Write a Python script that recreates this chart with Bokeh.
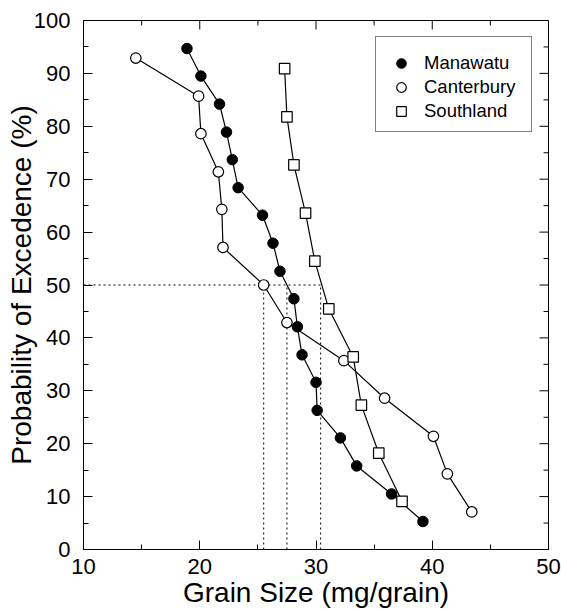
import math
from bokeh.plotting import figure
from bokeh.models import (Range1d, SingleIntervalTicker, Legend,
                          LegendItem, ColumnDataSource)
from bokeh.embed import file_html
from bokeh.resources import INLINE

FONT = "Liberation Sans"

# ---- data ----
manawatu_size = [39.2, 36.5, 33.5, 32.1, 30.1, 30.0, 28.8, 28.4, 28.1, 26.9,
                 26.3, 25.4, 23.3, 22.8, 22.3, 21.7, 20.1, 18.9]
manawatu_prob = [5.3, 10.5, 15.8, 21.1, 26.3, 31.6, 36.8, 42.1, 47.4, 52.6,
                 57.9, 63.2, 68.4, 73.7, 78.9, 84.2, 89.5, 94.7]

canterbury_size = [43.4, 41.3, 40.1, 35.9, 32.4, 27.5, 25.5, 22.0, 21.9, 21.6,
                   20.1, 19.9, 14.5]
canterbury_prob = [7.1, 14.3, 21.4, 28.6, 35.7, 42.9, 50.0, 57.1, 64.3, 71.4,
                   78.6, 85.7, 92.9]

southland_size = [37.4, 35.4, 33.9, 33.2, 31.1, 29.9, 29.1, 28.1, 27.5, 27.3]
southland_prob = [9.1, 18.2, 27.3, 36.4, 45.5, 54.5, 63.6, 72.7, 81.8, 90.9]

median_prob = 50.0
median_sizes = [25.5, 27.5, 30.4]   # Canterbury, Manawatu, Southland at 50 %

x_lo, x_hi = 10, 50
y_lo, y_hi = 0, 100
major_step, minor_step = 10, 5

# ---- figure ----
p = figure(width=561, height=612, x_range=Range1d(x_lo, x_hi),
           y_range=Range1d(y_lo, y_hi), output_backend="svg",
           toolbar_location=None,
           min_border_left=83, min_border_right=13,
           min_border_top=20, min_border_bottom=63)
p.xgrid.visible = False
p.ygrid.visible = False
p.outline_line_color = "black"
p.outline_line_width = 1
p.background_fill_color = "white"
p.border_fill_color = "white"

for ax, lab_standoff, title, title_standoff in (
        (p.xaxis[0], 9, "Grain Size (mg/grain)", 0),
        (p.yaxis[0], 13, "Probability of Excedence (%)", -6)):
    ax.ticker = SingleIntervalTicker(interval=major_step, num_minor_ticks=2)
    ax.axis_line_color = "black"
    ax.axis_line_width = 1
    ax.major_tick_line_color = "black"
    ax.minor_tick_line_color = "black"
    ax.major_tick_in = 9
    ax.major_tick_out = 0
    ax.minor_tick_in = 5
    ax.minor_tick_out = 0
    ax.major_label_standoff = lab_standoff
    ax.major_label_text_font = FONT
    ax.major_label_text_font_size = "22px"
    ax.major_label_text_color = "black"
    ax.axis_label = title
    ax.axis_label_text_font = FONT
    ax.axis_label_text_font_size = "28px"
    ax.axis_label_text_font_style = "normal"
    ax.axis_label_text_color = "black"
    ax.axis_label_standoff = title_standoff

# ---- mirrored inward ticks on the top and right edges ----
x_major = list(range(x_lo, x_hi + 1, major_step))
x_minor = list(range(x_lo + minor_step, x_hi, major_step))
y_major = list(range(y_lo, y_hi + 1, major_step))
y_minor = list(range(y_lo + minor_step, y_hi, major_step))
p.ray(x=x_major, y=[y_hi] * len(x_major), length=9, length_units="screen",
      angle=-math.pi / 2, line_color="black", line_width=1)
p.ray(x=x_minor, y=[y_hi] * len(x_minor), length=5, length_units="screen",
      angle=-math.pi / 2, line_color="black", line_width=1)
p.ray(x=[x_hi] * len(y_major), y=y_major, length=9, length_units="screen",
      angle=math.pi, line_color="black", line_width=1)
p.ray(x=[x_hi] * len(y_minor), y=y_minor, length=5, length_units="screen",
      angle=math.pi, line_color="black", line_width=1)

# ---- median guide lines (dotted) ----
p.line(x=[x_lo, max(median_sizes)], y=[median_prob, median_prob],
       line_color="black", line_width=1, line_dash="2 3")
p.segment(x0=median_sizes, y0=[y_lo] * len(median_sizes),
          x1=median_sizes, y1=[median_prob] * len(median_sizes),
          line_color="black", line_width=1, line_dash="2 3")

# ---- series ----
src_m = ColumnDataSource(dict(x=manawatu_size, y=manawatu_prob))
src_c = ColumnDataSource(dict(x=canterbury_size, y=canterbury_prob))
src_s = ColumnDataSource(dict(x=southland_size, y=southland_prob))

for src in (src_m, src_c, src_s):
    p.line("x", "y", source=src, line_color="black", line_width=1.2)

r_m = p.scatter("x", "y", source=src_m, marker="circle", size=10.5,
                fill_color="black", line_color="black", line_width=1)
r_c = p.scatter("x", "y", source=src_c, marker="circle", size=10.5,
                fill_color="white", line_color="black", line_width=1.2)
r_s = p.scatter("x", "y", source=src_s, marker="square", size=10.5,
                fill_color="white", line_color="black", line_width=1.2)

legend = Legend(items=[LegendItem(label="Manawatu", renderers=[r_m]),
                       LegendItem(label="Canterbury", renderers=[r_c]),
                       LegendItem(label="Southland", renderers=[r_s])],
                location=(292, 417), margin=0, padding=8, spacing=-1,
                glyph_width=34, glyph_height=24, label_standoff=6,
                label_width=99, label_height=24,
                title=" ", title_text_font_size="6px", title_standoff=0,
                label_text_font=FONT, label_text_font_size="18.5px",
                label_text_color="black",
                border_line_color="black", border_line_width=1,
                background_fill_color="white", background_fill_alpha=1)
p.add_layout(legend)

open("out.html", "w").write(file_html(p, INLINE))
